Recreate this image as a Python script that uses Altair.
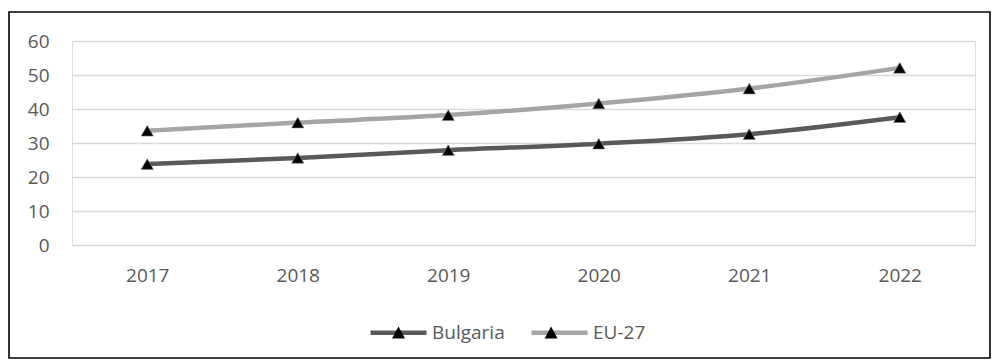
import altair as alt
import pandas as pd

years = ["2017", "2018", "2019", "2020", "2021", "2022"]
bulgaria = [23.8, 25.6, 27.9, 29.8, 32.6, 37.6]
eu27 = [33.6, 36.0, 38.2, 41.6, 46.0, 52.1]
series_names = ["Bulgaria", "EU-27"]
y_ticks = [0, 10, 20, 30, 40, 50, 60]

rows = []
for name, vals in zip(series_names, [bulgaria, eu27]):
    for yr, v in zip(years, vals):
        rows.append({"year": yr, "value": v, "series": name})
df = pd.DataFrame(rows)

FONT = "Open Sans"
TXT = "#595959"
SYM = 3136  # legend symbol size -> 56 px wide symbol
FS = 19
COLPAD = 17

x_enc = alt.X("year:N", sort=years, title=None,
              scale=alt.Scale(type="point", padding=0.5),
              axis=alt.Axis(labelAngle=0, ticks=False, domain=False, grid=False,
                            labelPadding=21, labelFontSize=FS, labelColor=TXT, labelFont=FONT))
y_enc = alt.Y("value:Q", title=None,
              scale=alt.Scale(domain=[0, 60], nice=False, zero=True),
              axis=alt.Axis(values=y_ticks, ticks=False, domain=False, grid=True,
                            gridColor="#d9d9d9", gridWidth=1.3, labelPadding=23,
                            labelFontSize=FS, labelColor=TXT, labelFont=FONT))

lines = alt.Chart(df).mark_line(strokeWidth=4.5, interpolate="monotone", strokeCap="round").encode(
    x=x_enc, y=y_enc,
    color=alt.Color("series:N", sort=series_names,
                    scale=alt.Scale(domain=series_names, range=["#595959", "#a5a5a5"]),
                    legend=alt.Legend(orient="none", legendX=296, legendY=261, direction="horizontal",
                                      title=None, symbolType="M-1,0L1,0", symbolSize=SYM,
                                      symbolStrokeWidth=4.5, labelFontSize=FS, labelFont=FONT,
                                      labelColor=TXT, labelOffset=3, columnPadding=COLPAD, zindex=1)),
)

points = alt.Chart(df).mark_point(shape="triangle-up", filled=True, size=150, opacity=1,
                                  stroke="#7f7f7f", strokeWidth=0.6).encode(
    x=x_enc, y=y_enc,
    color=alt.Color("series:N", sort=series_names,
                    scale=alt.Scale(domain=series_names, range=["#000000", "#000000"]),
                    legend=alt.Legend(orient="none", legendX=296, legendY=261, direction="horizontal",
                                      title=None, symbolType="M-0.23,0.2L0,-0.23L0.23,0.2Z",
                                      symbolSize=SYM, symbolStrokeWidth=4.5, symbolStrokeColor="transparent",
                                      symbolOpacity=1, labelExpr="''",
                                      labelFontSize=FS, labelFont=FONT,
                                      labelOffset=3, columnPadding=COLPAD + 71.6,
                                      zindex=2)),
)

frame = alt.Chart(pd.DataFrame({"a": [0]})).mark_rect(
    fill="transparent", stroke="black", strokeWidth=1.6, clip=False
).encode(x=alt.value(-63), x2=alt.value(918), y=alt.value(-29), y2=alt.value(317))

chart = alt.layer(frame, lines, points).resolve_scale(color="independent").properties(
    width=903, height=204,
    autosize=alt.AutoSizeParams(type="none"),
    padding={"left": 72, "top": 41, "right": 17, "bottom": 115},
).configure_view(stroke=None).configure(background="white")

chart.save("out.html", embed_options={"renderer": "svg", "actions": False})
